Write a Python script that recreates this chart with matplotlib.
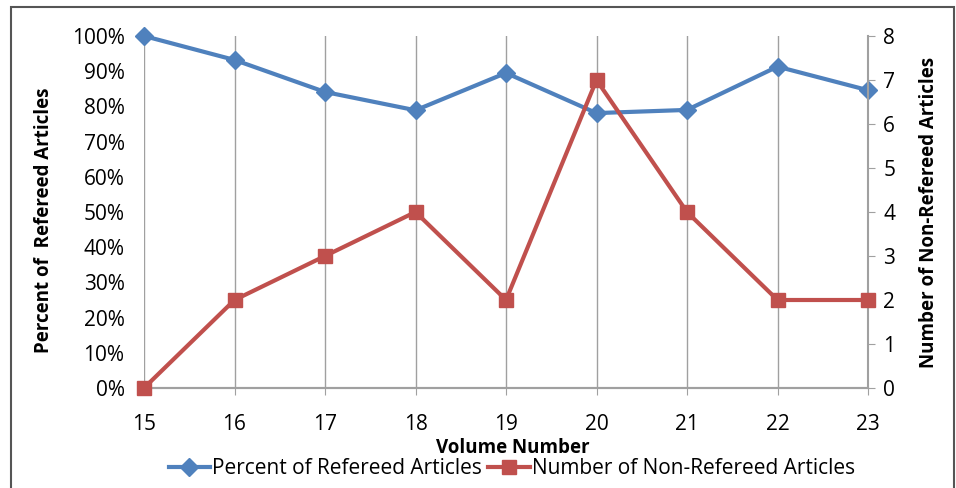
import matplotlib.pyplot as plt
from matplotlib.patches import Rectangle
from matplotlib.ticker import PercentFormatter

plt.rcParams['font.family'] = ['Open Sans', 'DejaVu Sans']

volumes = [15, 16, 17, 18, 19, 20, 21, 22, 23]
pct_refereed = [1.0, 0.932, 0.841, 0.789, 0.895, 0.781, 0.79, 0.913, 0.846]
non_refereed = [0, 2, 3, 4, 2, 7, 4, 2, 2]

blue = '#4F81BD'
red = '#C0504D'
grid_c = '#A0A0A0'

fig = plt.figure(figsize=(9.56, 4.88), dpi=100)
ax = fig.add_axes([144/956, 1-388/488, (868-144)/956, (388-36)/488])
ax2 = ax.twinx()

# chart border
fig.patches.append(Rectangle((11/956, -0.05), (954-11)/956, 1.05 - 7/488,
                             transform=fig.transFigure, fill=False,
                             edgecolor='#555555', linewidth=1.5))

ax.plot(volumes, pct_refereed, color=blue, lw=3, marker='D', ms=9,
        label='Percent of Refereed Articles', zorder=3, clip_on=False)
ax2.plot(volumes, non_refereed, color=red, lw=3, marker='s', ms=10,
         label='Number of Non-Refereed Articles', zorder=3, clip_on=False)

ax.set_xlim(15, 23)
ax.set_ylim(0, 1)
ax2.set_ylim(0, 8)
ax.set_xticks(volumes)
ax.set_yticks([i / 10 for i in range(11)])
ax.yaxis.set_major_formatter(PercentFormatter(1.0, decimals=0))
ax2.set_yticks(range(9))

ax.grid(axis='x', color=grid_c, lw=1)
for a in (ax, ax2):
    for s in ('top', 'left', 'right'):
        a.spines[s].set_visible(False)
    a.spines['bottom'].set_color(grid_c)
    a.spines['bottom'].set_linewidth(1.5)
ax2.spines['right'].set_visible(True)
ax2.spines['right'].set_color(grid_c)
ax2.spines['right'].set_linewidth(1.5)

ax.tick_params(axis='y', length=0, labelsize=15, pad=14)
ax.tick_params(axis='x', direction='out', length=5, color=grid_c, labelsize=15, pad=14)
ax2.tick_params(axis='y', direction='out', length=5, color=grid_c, labelsize=15, pad=6)

ax.set_xlabel('Volume Number', fontsize=13.5, fontweight='bold')
ax.xaxis.set_label_coords(513/956, 1-438/488, transform=fig.transFigure)
ax.set_ylabel('Percent of  Refereed Articles', fontsize=13.5, fontweight='bold')
ax.yaxis.set_label_coords(54/956, 1-220/488, transform=fig.transFigure)
ax2.set_ylabel('Number of Non-Refereed Articles', fontsize=13.5, fontweight='bold')
ax2.yaxis.set_label_coords(919/956, 1-212/488, transform=fig.transFigure)

h1, l1 = ax.get_legend_handles_labels()
h2, l2 = ax2.get_legend_handles_labels()
fig.legend(h1 + h2, l1 + l2, loc='center', bbox_to_anchor=(512/956, 1-469/488),
           ncol=2, frameon=False, fontsize=15, handlelength=2.0,
           handletextpad=0.1, columnspacing=0.3, borderpad=0)

fig.savefig('out.png', dpi=100)
